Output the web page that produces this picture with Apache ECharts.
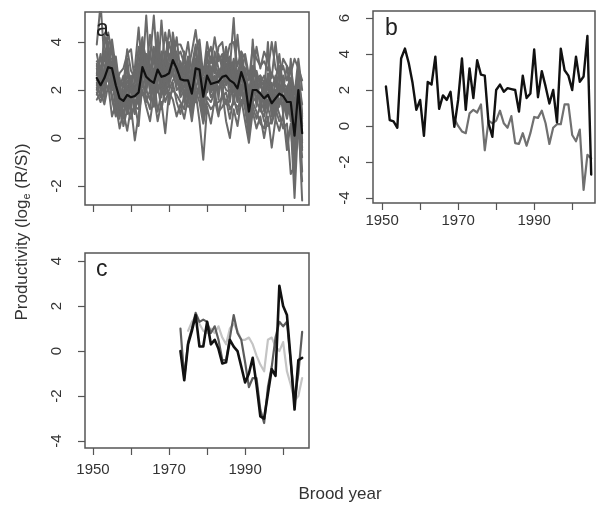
<!DOCTYPE html>
<html>
<head>
<meta charset="utf-8">
<script src="https://cdn.jsdelivr.net/npm/echarts@6.0.0/dist/echarts.min.js"></script>
<style>
  html, body { margin: 0; padding: 0; background: #fff; }
  #chart { width: 596px; height: 507px; }
</style>
</head>
<body>
<div id="chart"></div>
<script>
// brood years
var yearsA = [1951,1952,1953,1954,1955,1956,1957,1958,1959,1960,1961,1962,1963,1964,1965,1966,1967,1968,1969,1970,
  1971,1972,1973,1974,1975,1976,1977,1978,1979,1980,1981,1982,1983,1984,1985,1986,1987,1988,1989,1990,
  1991,1992,1993,1994,1995,1996,1997,1998,1999,2000,2001,2002,2003,2004,2005];
var yearsBgrey = [1969,1970,1971,1972,1973,1974,1975,1976,1977,1978,1979,1980,1981,1982,1983,1984,1985,1986,1987,1988,
  1989,1990,1991,1992,1993,1994,1995,1996,1997,1998,1999,2000,2001,2002,2003,2004,2005];
var yearsC = [1973,1974,1975,1976,1977,1978,1979,1980,1981,1982,1983,1984,1985,1986,1987,1988,1989,1990,1991,1992,
  1993,1994,1995,1996,1997,1998,1999,2000,2001,2002,2003,2004,2005];
var yearsClight = [1975,1976,1977,1978,1979,1980,1981,1982,1983,1984,1985,1986,1987,1988,1989,1990,1991,1992,1993,1994,
  1995,1996,1997,1998,1999,2000,2001,2002,2003,2004,2005];

var xTicks = [1950, 1960, 1970, 1980, 1990, 2000];
var xLabels = [1950, 1970, 1990];
var yTicksA = [-2, 0, 2, 4];
var yTicksB = [-4, -2, 0, 2, 4, 6];
var yTicksC = [-4, -2, 0, 2, 4];

// panel a: individual stocks (grey) and mean (black)
var aMean = [2.5,2.2,2.5,2.95,2.9,2.2,1.65,1.55,1.8,1.7,1.75,1.9,2.95,2.55,2.4,2.3,2.85,2.55,2.6,2.7,
  3.25,2.9,2.45,2.4,2.4,1.85,2.9,2.85,1.72,2.6,2.25,2.3,2.35,2.55,2.6,2.4,2.3,2.07,2.75,2.28,
  1.1,2.0,2.0,1.85,1.65,1.8,1.45,1.65,1.85,1.75,1.5,1.5,0.1,2.0,0.2];
var aS1 = [3.9,5.6,3.2,4.4,3.5,2.6,1.2,2.4,3.0,1.1,2.6, 3.0,4.0,3.3,2.0,3.4,4.1,2.2,3.5,2.1,4.4,3.3,
  2.0,3.6,1.8,3.0,3.9,2.0,1.2,3.6,2.1,3.3,1.6, 3.4,2.5,3.3,1.4,2.7,3.3,1.7,0.6,2.9,1.3,2.6,
  1.1,2.4,0.9,2.5,1.3,2.6,0.9,2.2,-0.4,2.8,0.9];
var aS2 = [2.0,2.9,1.6,3.3,2.4,1.3,2.5,0.8,2.1,2.4,1.0, 2.5,3.5,1.9,3.0,1.6,2.3,3.3,1.8,3.1,2.6,2.2,
  3.1,1.5,2.9,1.2,2.4,3.4,2.3,1.9,3.0,1.5,2.9, 1.8,3.1,1.5,2.6,2.8,2.0,2.9,1.6,1.4,2.7,1.1,
  2.3,1.2,2.1,0.8,2.4,1.0,2.1,0.7,0.9,1.2,-0.5];
var aS3 = [3.0,2.5,4.3,3.6,2.2,3.4,2.1,2.6,1.2,2.3,2.9, 4.6,2.7,5.1,2.6,3.8,2.4,4.9,2.9,4.0,3.2,4.2,
  2.7,3.3,2.6,2.4,3.1,2.3,2.9,2.5,3.4,2.8,3.5, 2.9,3.8,2.9,3.2,1.5,3.6,2.5,1.6,3.0,2.6,2.3,
  2.6,2.0,2.7,2.3,3.5,2.0,3.0,1.9,1.2,2.5,1.4];
var aS4 = [1.6,1.9,1.4,2.2,0.9,1.4,0.4,1.1,0.3,1.3,-0.1, 1.0,2.0,1.3,0.7,1.8,0.7,1.5,0.2,1.9,1.6,0.9,
  1.4,0.8,1.7,0.7,1.9,0.7,-0.9,1.3,0.6,1.6,0.9, 1.9,0.7,0.0,1.2,0.5,1.6,0.7,-0.2,1.1,0.4,0.9,
  0.0,0.9,-0.4,0.8,0.3,1.0,-0.5,0.6,-2.5,0.8,-0.8];
var aS5 = [2.6,3.5,2.2,2.5,4.1,2.9,1.9,1.4,3.3,1.9,1.5, 1.8,3.3,2.4,3.6,2.5,3.0,2.1,3.6,2.6,3.9,2.5,
  2.3,2.1,3.4,2.1,2.7,3.5,1.8,3.0,1.9,2.2,2.6, 2.7,2.2,2.9,5.0,2.2,3.0,2.0,1.4,2.3,1.7,1.9,
  1.7,2.7,1.6,1.2,2.1,2.3,1.4,1.8,0.3,1.8,-1.4];
var aS6 = [2.3,1.7,2.9,3.0,2.7,1.9,1.0,2.0,1.8,1.5,2.2, 1.4,2.6,3.2,1.9,2.2,3.6,2.5,2.2,2.9,3.1,3.6,
  1.8,2.6,2.2,1.6,3.3,2.5,1.5,2.5,2.8,2.3,1.9, 2.4,2.0,1.9,2.6,1.7,2.4,2.6,0.6,1.8,2.3,1.5,
  1.2,1.5,1.9,1.8,1.6,1.3,1.9,1.2,-1.0,2.2,0.6];
var aS7 = [2.9,2.0,2.7,2.5,3.2,1.7,2.0,1.8,2.4,2.0,1.7, 2.2,3.0,2.1,2.8,2.0,2.6,2.9,2.4,2.5,3.5,2.7,
  2.9,2.4,2.0,2.2,2.5,3.0,2.4,2.8,2.0,2.6,2.3, 2.2,2.9,2.6,1.9,2.4,2.1,2.2,1.3,2.4,2.2,2.3,
  1.9,2.1,1.3,2.0,1.8,2.0,1.7,1.9,0.8,2.4,0.5];
var aS8 = [3.5,2.7,3.9,4.3,3.6,3.0,2.4,2.2,3.7,2.8,2.5, 3.8,3.2,2.7,4.3,3.1,3.5,3.0,4.4,3.3,3.7,3.4,
  3.6,3.1,4.0,2.7,3.6,4.1,2.6,4.0,3.1,4.2,3.2, 3.5,3.2,3.9,4.0,3.0,3.6,3.3,2.4,3.8,3.3,3.0,
  3.2,2.8,4.0,2.9,2.6,3.0,2.4,3.0,1.8,3.3,2.0];
var aS9 = [1.9,1.5,2.0,2.7,1.6,0.9,1.5,0.5,1.2,0.8,1.4, 0.5,2.4,1.7,1.2,2.6,1.1,1.9,2.8,1.4,2.3,1.5,
  1.0,1.8,1.3,1.4,1.5,2.2,0.7,1.7,1.5,1.9,1.1, 1.3,1.6,0.8,1.7,1.0,2.0,1.2,0.1,1.5,1.1,0.6,
  0.4,1.3,0.6,1.2,0.7,0.8,-0.1,0.5,-1.6,1.0,-2.6];
var aS10 = [2.2,2.6,3.4,3.1,2.3,2.4,1.4,1.7,2.2,1.4,2.0, 2.7,3.9,2.9,2.2,2.9,2.0,2.6,3.0,2.2,2.8,3.0,
  2.5,2.8,1.5,2.8,2.0,2.7,2.1,2.2,2.5,2.0,2.8, 2.9,2.3,2.4,3.0,2.0,2.7,1.8,1.8,2.0,1.9,1.7,
  2.0,1.7,2.3,1.4,2.0,1.6,1.3,2.3,0.6,1.6,-0.2];
var aS11 = [2.4,2.2,1.9,3.8,2.0,2.0,1.7,1.3,1.5,2.6,1.2, 1.6,2.8,3.5,2.4,1.8,3.2,1.7,2.6,3.5,2.9,2.0,
  2.2,3.0,2.4,1.0,3.1,2.8,1.3,2.1,2.6,2.5,2.0, 2.6,2.7,2.2,2.4,2.5,1.8,2.7,0.9,2.2,2.0,1.6,
  1.5,1.9,1.0,1.7,2.2,1.7,1.6,1.3,0.2,2.1,0.2];
var aS12 = [3.2,3.0,2.6,3.3,3.8,2.5,2.3,2.1,2.6,2.2,2.8, 2.3,3.6,3.0,2.9,3.4,2.5,3.6,2.7,3.2,4.0,2.8,
  3.2,2.7,3.0,2.5,2.9,3.3,2.8,2.9,2.7,3.0,2.7, 3.0,3.1,2.7,2.8,2.6,3.1,2.9,2.0,2.7,2.5,2.6,
  2.3,2.4,2.2,2.2,2.7,2.3,2.1,2.5,1.4,2.7,1.0];
var aS13 = [1.8,2.4,2.3,2.0,2.6,1.6,0.8,1.9,1.0,1.7,1.9, 2.1,2.2,2.0,1.6,2.7,1.9,2.3,1.5,2.0,2.4,2.6,
  1.7,2.0,1.9,1.9,2.2,1.8,1.0,2.4,1.7,2.0,2.4, 2.1,1.4,2.0,2.2,1.5,2.2,1.5,0.7,1.7,1.5,1.2,
  0.9,1.6,1.4,1.0,1.4,1.5,0.8,1.6,-0.6,1.4,-0.4];
var aS14 = [2.7,3.3,3.0,2.9,3.0,2.2,2.7,2.9,3.5,3.7,2.3, 3.4,4.2,2.5,3.3,5.1,2.8,3.1,3.2,4.5,3.6,3.9,
  3.9,3.5,2.8,3.6,4.5,3.2,2.7,3.3,3.8,2.7,3.8, 4.0,2.8,3.4,2.5,4.3,2.6,3.5,2.6,2.6,3.8,2.9,
  3.6,3.2,2.5,4.0,2.4,3.3,3.0,2.7,3.3,2.9,2.4];
var aS15 = [2.1,1.8,2.4,2.4,1.8,1.1,1.1,0.9,1.6,1.1,1.3, 1.2,2.5,1.5,2.0,1.3,2.2,1.2,2.0,1.7,2.0,1.8,
  1.5,1.2,2.3,1.1,2.0,1.5,0.6,1.5,1.2,1.4,1.5, 1.7,1.9,1.2,1.5,1.3,1.4,1.9,0.4,1.3,0.8,1.4,
  0.7,0.5,0.7,1.5,1.0,0.4,0.6,-1.5,-1.2,0.5,-1.8];
var aS16 = [3.1,2.3,2.8,4.0,2.8,3.2,1.6,1.6,2.0,2.1,1.8, 3.0,2.8,2.2,2.7,2.3,4.4,2.7,2.9,3.0,3.3,3.2,
  2.6,2.3,2.7,1.8,3.3,3.0,1.9,2.7,2.2,3.6,2.9, 2.5,3.5,2.4,3.3,2.1,2.8,2.4,1.2,2.5,2.8,2.1,
  2.4,2.2,2.0,2.6,1.9,2.4,1.7,2.0,0.4,2.2,0.8];
var aS17 = [2.5,2.1,3.6,3.3,3.3,2.6,2.2,1.5,1.4,1.6,2.1, 2.0,3.3,2.3,2.5,2.1,3.8,2.3,2.0,2.7,3.3,2.4,
  2.8,1.8,2.5,1.5,2.6,3.9,1.9,2.3,2.3,2.2,2.1, 2.3,2.6,2.1,2.7,2.0,2.9,2.2,1.1,4.1,2.0,1.8,
  1.8,4.0,1.4,1.5,3.0,1.6,1.1,3.3,0.9,1.9,-0.1];
var aStocks = [aS1, aS2, aS3, aS4, aS5, aS6, aS7, aS8, aS9, aS10, aS11, aS12, aS13, aS14, aS15, aS16, aS17];

// panel b
var bBlack = [2.2,0.33,0.25,-0.1,3.75,4.3,3.5,2.4,0.9,1.45,-0.55,2.45,2.3,3.85,0.95,1.7,1.45,1.9,-0.05,1.45,
  3.75,0.9,3.2,1.55,3.65,2.85,2.8,0.15,-0.6,2.0,2.3,1.9,2.1,2.05,2.0,0.8,2.8,1.55,1.8,4.25,
  1.6,3.05,2.2,1.25,2.0,0.2,4.3,3.1,2.8,2.0,3.85,2.45,2.75,5.0,-2.7];
var bGrey = [0.4,0.0,-0.3,-0.4,0.7,0.9,0.75,1.2,-1.35,0.3,0.15,0.3,0.85,0.15,-0.1,0.55,-0.95,-1.0,-0.4,-1.1,
  -0.4,0.5,0.45,0.85,0.15,-1.0,-0.1,0.1,0.1,1.2,1.2,-0.5,-0.85,-0.2,-3.55,-1.6,-1.8];

// panel c
var cBlack = [0.0,-1.3,0.3,0.9,1.6,0.2,0.2,1.3,0.3,0.5,0.1,-0.55,-0.5,0.5,0.2,0.0,-0.7,-1.4,-1.0,-0.3,
  -1.5,-2.9,-3.0,-1.9,-0.8,-1.1,2.9,2.0,1.6,-0.4,-2.6,-0.4,-0.3];
var cDark = [1.0,-1.2,0.4,1.0,1.7,1.3,1.4,1.3,0.8,1.1,0.5,-0.4,-0.4,0.6,1.6,0.8,0.5,-0.5,-1.6,-1.2,
  -1.2,-2.6,-3.2,-1.6,-0.7,0.6,1.3,1.1,1.3,-0.5,-2.2,-1.0,0.85];
var cLight = [0.9,1.3,1.5,1.2,0.9,0.8,1.0,0.8,1.1,0.6,0.3,1.0,1.2,0.9,0.5,0.5,0.6,0.3,-0.2,-0.6,
  -0.9,0.5,0.6,0.2,0.0,0.4,-0.9,-1.5,-2.2,-2.0,-1.2];

var font = "'Liberation Sans', Arial, sans-serif";
var axisCol = '#555';

function pairs(xs, ys) {
  return xs.map(function (x, i) { return [x, ys[i]]; });
}

function line(idx, xs, ys, color, width, z) {
  return {
    type: 'line', xAxisIndex: idx, yAxisIndex: idx,
    data: pairs(xs, ys),
    symbol: 'none', silent: true, z: z,
    lineStyle: { color: color, width: width, join: 'round', cap: 'round' }
  };
}

function plain(v) { return String(v); }

function xAx(idx, min, max, showLabels, margin) {
  return {
    type: 'value', gridIndex: idx, min: min, max: max,
    axisLine: { show: false, onZero: false },
    splitLine: { show: false },
    axisTick: { show: true, length: 7, customValues: xTicks, lineStyle: { color: axisCol, width: 1.2 } },
    axisLabel: { show: showLabels, customValues: xLabels, margin: margin, formatter: plain,
      color: '#333', fontSize: 15, fontFamily: font }
  };
}

function yAx(idx, min, max, ticks) {
  return {
    type: 'value', gridIndex: idx, min: min, max: max,
    axisLine: { show: false, onZero: false },
    splitLine: { show: false },
    axisTick: { show: true, length: 7, customValues: ticks, lineStyle: { color: axisCol, width: 1.2 } },
    axisLabel: { customValues: ticks, rotate: 90, margin: 21, formatter: plain,
      color: '#333', fontSize: 15, fontFamily: font }
  };
}

var series = [];
aStocks.forEach(function (s) { series.push(line(0, yearsA, s, '#6a6a6a', 2.0, 2)); });
series.push(line(0, yearsA, aMean, '#111', 2.2, 5));
series.push(line(1, yearsBgrey, bGrey, '#707070', 2.2, 2));
series.push(line(1, yearsA, bBlack, '#111', 2.4, 3));
series.push(line(2, yearsClight, cLight, '#c4c4c4', 2.2, 2));
series.push(line(2, yearsC, cDark, '#5c5c5c', 2.2, 3));
series.push(line(2, yearsC, cBlack, '#111', 2.6, 4));

var gridBase = { show: true, borderColor: axisCol, borderWidth: 1.5, backgroundColor: 'transparent', containLabel: false };

var chart = echarts.init(document.getElementById('chart'), null, { renderer: 'canvas' });
chart.setOption({
  animation: false,
  backgroundColor: '#fff',
  grid: [
    Object.assign({ left: 85, top: 12, width: 224, height: 193 }, gridBase),
    Object.assign({ left: 373, top: 11, width: 222, height: 192 }, gridBase),
    Object.assign({ left: 85, top: 253, width: 224, height: 195 }, gridBase)
  ],
  xAxis: [
    xAx(0, 1947.9, 2006.8, false, 10),
    xAx(1, 1947.6, 2006.0, true, 10),
    xAx(2, 1947.9, 2006.8, true, 14)
  ],
  yAxis: [
    yAx(0, -2.79, 5.25, yTicksA),
    yAx(1, -4.28, 6.39, yTicksB),
    yAx(2, -4.31, 4.36, yTicksC)
  ],
  graphic: [
    { type: 'text', left: 96, top: 18, z: 10, style: { text: 'a', fontSize: 23, fontFamily: font, fill: '#222' } },
    { type: 'text', left: 385, top: 17, z: 10, style: { text: 'b', fontSize: 23, fontFamily: font, fill: '#222' } },
    { type: 'text', left: 96, top: 258, z: 10, style: { text: 'c', fontSize: 23, fontFamily: font, fill: '#222' } },
    { type: 'text', x: 22, y: 232, rotation: Math.PI / 2, z: 10,
      style: {
        text: '{m|Productivity (log}{s|e}{m| (R/S))}',
        align: 'center', verticalAlign: 'middle',
        rich: {
          m: { fontSize: 17, fontFamily: font, fill: '#333' },
          s: { fontSize: 11, fontFamily: font, fill: '#333', padding: [9, 0, 0, 0] }
        }
      } },
    { type: 'text', x: 340, y: 494, z: 10,
      style: { text: 'Brood year', align: 'center', verticalAlign: 'middle', fontSize: 17, fontFamily: font, fill: '#333' } }
  ],
  series: series
});
</script>
</body>
</html>
